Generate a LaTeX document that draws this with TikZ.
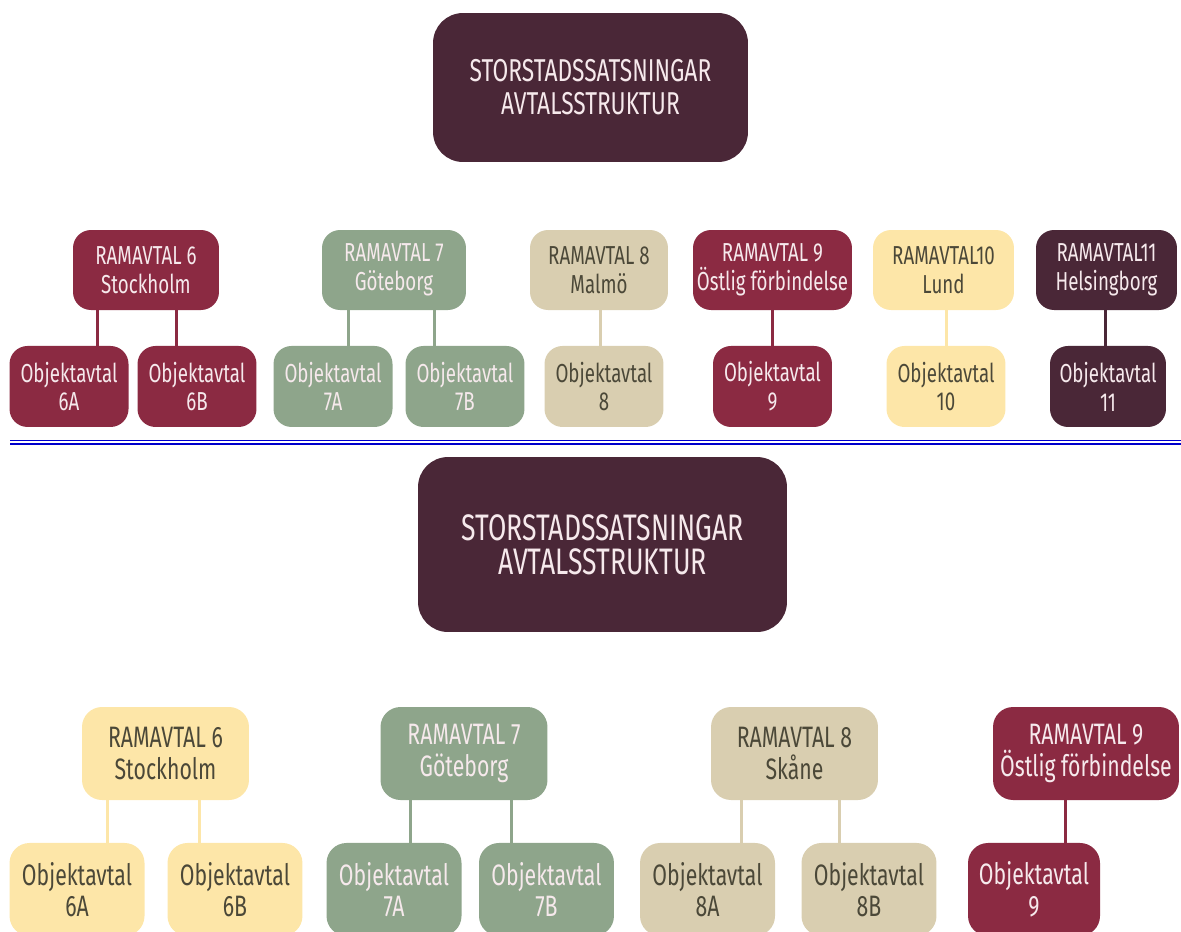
\documentclass[tikz,border=0pt]{standalone}
\usepackage{fontspec}
\setmainfont{Fira Sans}[FakeStretch=0.72]
\usetikzlibrary{shapes,positioning}

\definecolor{plum}{HTML}{4A2737}
\definecolor{crimson}{HTML}{8B2A42}
\definecolor{sage}{HTML}{8EA58B}
\definecolor{beige}{HTML}{D9CEB0}
\definecolor{butter}{HTML}{FDE6A8}
\definecolor{lighttext}{HTML}{F6E9EC}
\definecolor{darktext}{HTML}{4B4838}
\definecolor{sepblue}{HTML}{0000CC}

\begin{document}
\begin{tikzpicture}[x=0.02cm, y=-0.02cm, node distance=2.33cm]
  \tikzstyle{box} = [rectangle, align=center, inner sep=0pt]
  \tikzstyle{title} = [box, rounded corners=0.6cm, fill=plum, text=lighttext]
  \tikzstyle{ram} = [box, rounded corners=0.36cm, minimum height=1.6cm,
    font=\fontsize{14.8}{16.4}\selectfont]
  \tikzstyle{obj} = [box, rounded corners=0.36cm, minimum height=1.62cm,
    minimum width=2.38cm, font=\fontsize{14.8}{16.4}\selectfont]
  \tikzstyle{bigram} = [box, rounded corners=0.4cm, minimum height=1.86cm,
    minimum width=3.34cm, font=\fontsize{16.8}{18}\selectfont]
  \tikzstyle{bigobj} = [box, rounded corners=0.4cm, minimum height=1.86cm,
    minimum width=2.7cm, font=\fontsize{16.8}{18}\selectfont]
  \tikzstyle{plumbox} = [fill=plum, text=lighttext]
  \tikzstyle{redbox} = [fill=crimson, text=lighttext]
  \tikzstyle{greenbox} = [fill=sage, text=lighttext]
  \tikzstyle{beigebox} = [fill=beige, text=darktext]
  \tikzstyle{yellowbox} = [fill=butter, text=darktext]
  \tikzstyle{line} = [draw, line width=0.06cm]

  \useasboundingbox (0,0) rectangle (1181,931);

  % Place nodes: first chart
  \node [title, minimum width=6.3cm, minimum height=2.98cm,
    font=\fontsize{18}{18.8}\selectfont] (top) at (590.5,87.5)
    {STORSTADSSATSNINGAR\\AVTALSSTRUKTUR};

  \node [ram, redbox, minimum width=2.92cm] (r6) at (146,270) {RAMAVTAL 6\\Stockholm};
  \node [ram, greenbox, minimum width=2.88cm] (r7) at (394,270) {RAMAVTAL 7\\Göteborg};
  \node [ram, beigebox, minimum width=2.76cm] (r8) at (599,270) {RAMAVTAL 8\\Malmö};
  \node [ram, redbox, minimum width=3.18cm] (r9) at (772.5,270) {RAMAVTAL 9\\Östlig förbindelse};
  \node [ram, yellowbox, minimum width=2.82cm] (r10) at (943.5,270) {RAMAVTAL10\\Lund};
  \node [ram, plumbox, minimum width=2.82cm] (r11) at (1106.5,270) {RAMAVTAL11\\Helsingborg};

  \node [obj, redbox, below of=r6, xshift=-1.54cm] (c6a) {Objektavtal\\6A};
  \node [obj, redbox, below of=r6, xshift=1.02cm] (c6b) {Objektavtal\\6B};
  \node [obj, greenbox, below of=r7, xshift=-1.22cm] (c7a) {Objektavtal\\7A};
  \node [obj, greenbox, below of=r7, xshift=1.42cm] (c7b) {Objektavtal\\7B};
  \node [obj, beigebox, below of=r8, xshift=0.1cm] (c8) {Objektavtal\\8};
  \node [obj, redbox, below of=r9] (c9) {Objektavtal\\9};
  \node [obj, yellowbox, below of=r10, xshift=0.05cm] (c10) {Objektavtal\\10};
  \node [obj, plumbox, below of=r11, xshift=0.03cm, minimum width=2.32cm] (c11) {Objektavtal\\11};

  % Draw edges: first chart
  \path [line, crimson] ([xshift=0.56cm]c6a.north) -- ([xshift=0.56cm]c6a.north |- r6.south);
  \path [line, crimson] ([xshift=-0.4cm]c6b.north) -- ([xshift=-0.4cm]c6b.north |- r6.south);
  \path [line, sage] ([xshift=0.3cm]c7a.north) -- ([xshift=0.3cm]c7a.north |- r7.south);
  \path [line, sage] ([xshift=-0.6cm]c7b.north) -- ([xshift=-0.6cm]c7b.north |- r7.south);
  \path [line, beige] ([xshift=-0.08cm]c8.north) -- ([xshift=-0.08cm]c8.north |- r8.south);
  \path [line, crimson] (c9.north) -- (c9.north |- r9.south);
  \path [line, butter] (c10.north) -- (c10.north |- r10.south);
  \path [line, plum] ([xshift=-0.06cm]c11.north) -- ([xshift=-0.06cm]c11.north |- r11.south);

  % Separator
  \coordinate (sepl) at (10,440.5);
  \coordinate (sepr) at (1181,440.5);
  \draw [sepblue, line width=0.03cm] (sepl) -- (sepr);
  \draw [sepblue, line width=0.03cm] ([yshift=-0.07cm]sepl) -- ([yshift=-0.07cm]sepr);

  % Place nodes: second chart
  \node [title, minimum width=7.38cm, minimum height=3.5cm,
    font=\fontsize{21}{19.5}\selectfont] (bottom) at (602.5,544.5)
    {STORSTADSSATSNINGAR\\AVTALSSTRUKTUR};

  \node [bigram, yellowbox] (b6) at (165.5,753.5) {RAMAVTAL 6\\Stockholm};
  \node [bigram, greenbox] (b7) at (464,753.5) {RAMAVTAL 7\\Göteborg};
  \node [bigram, beigebox] (b8) at (794.5,753.5) {RAMAVTAL 8\\Skåne};
  \node [bigram, redbox, minimum width=3.72cm] (b9) at (1086,753.5) {RAMAVTAL 9\\Östlig förbindelse};

  \node [bigobj, yellowbox, below of=b6, node distance=2.72cm, xshift=-1.77cm] (d6a) {Objektavtal\\6A};
  \node [bigobj, yellowbox, below of=b6, node distance=2.72cm, xshift=1.39cm] (d6b) {Objektavtal\\6B};
  \node [bigobj, greenbox, below of=b7, node distance=2.72cm, xshift=-1.4cm] (d7a) {Objektavtal\\7A};
  \node [bigobj, greenbox, below of=b7, node distance=2.72cm, xshift=1.65cm] (d7b) {Objektavtal\\7B};
  \node [bigobj, beigebox, below of=b8, node distance=2.72cm, xshift=-1.74cm] (d8a) {Objektavtal\\8A};
  \node [bigobj, beigebox, below of=b8, node distance=2.72cm, xshift=1.49cm] (d8b) {Objektavtal\\8B};
  \node [bigobj, redbox, below of=b9, node distance=2.72cm, xshift=-1.04cm, minimum width=2.64cm] (d9) {Objektavtal\\9};

  % Draw edges: second chart
  \path [line, butter] ([xshift=0.6cm]d6a.north) -- ([xshift=0.6cm]d6a.north |- b6.south);
  \path [line, butter] ([xshift=-0.7cm]d6b.north) -- ([xshift=-0.7cm]d6b.north |- b6.south);
  \path [line, sage] ([xshift=0.32cm]d7a.north) -- ([xshift=0.32cm]d7a.north |- b7.south);
  \path [line, sage] ([xshift=-0.69cm]d7b.north) -- ([xshift=-0.69cm]d7b.north |- b7.south);
  \path [line, beige] ([xshift=0.67cm]d8a.north) -- ([xshift=0.67cm]d8a.north |- b8.south);
  \path [line, beige] ([xshift=-0.58cm]d8b.north) -- ([xshift=-0.58cm]d8b.north |- b8.south);
  \path [line, crimson] ([xshift=0.62cm]d9.north) -- ([xshift=0.62cm]d9.north |- b9.south);

\end{tikzpicture}
\end{document}
